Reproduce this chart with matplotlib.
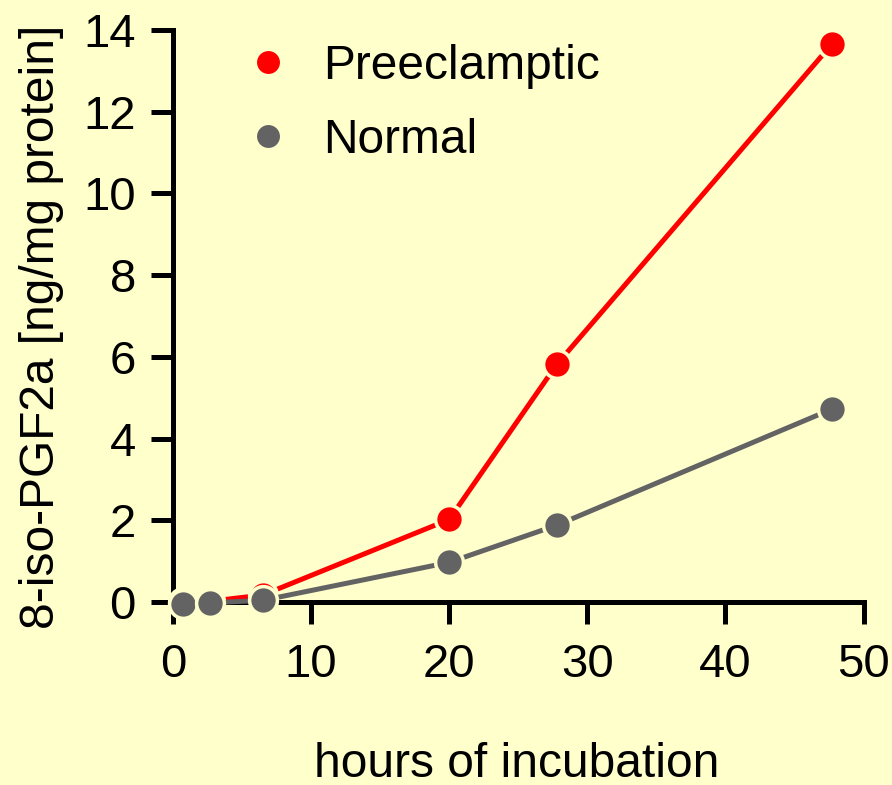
import matplotlib
matplotlib.use('Agg')
import matplotlib.pyplot as plt
from matplotlib.lines import Line2D

plt.rcParams['font.family'] = ['Liberation Sans', 'DejaVu Sans']

# data
hours = [0.7, 2.7, 6.5, 20.0, 27.8, 47.7]
preeclamptic = [0.0, 0.02, 0.17, 2.02, 5.82, 13.65]
normal = [-0.05, -0.02, 0.04, 0.97, 1.88, 4.72]

xticks = [0, 10, 20, 30, 40, 50]
yticks = [0, 2, 4, 6, 8, 10, 12, 14]

bg = '#FFFFCC'
red = '#FF0000'
grey = '#636363'
fs = 34.5

fig = plt.figure(figsize=(8.92, 7.85), dpi=100, facecolor=bg)
ax = fig.add_axes([173/892, 1-602/785, 690.5/892, 572/785])
ax.set_facecolor(bg)

ax.plot(hours, preeclamptic, color=red, lw=3.6, marker='o', ms=20,
        mfc=red, mec=bg, mew=2.5, clip_on=False, zorder=3)
ax.plot(hours, normal, color=grey, lw=3.6, marker='o', ms=20,
        mfc=grey, mec=bg, mew=2.5, clip_on=False, zorder=4)

ax.set_xlim(0, 50)
ax.set_ylim(0, 14)
ax.set_xticks(xticks)
ax.set_yticks(yticks)

for s in ['top', 'right']:
    ax.spines[s].set_visible(False)
for s in ['left', 'bottom']:
    ax.spines[s].set_linewidth(3.6)
ax.tick_params(axis='both', direction='out', length=15.8, width=3.6,
               labelsize=34, colors='black')
ax.tick_params(axis='x', pad=14)
ax.tick_params(axis='y', pad=11)

ax.set_xlabel('hours of incubation', fontsize=fs)
ax.xaxis.set_label_coords(0.498, -0.245)
ax.set_ylabel('8-iso-PGF2a [ng/mg protein]', fontsize=fs)
ax.yaxis.set_label_coords(-0.158, 0.481)

handles = [Line2D([], [], ls='none', marker='o', ms=16.5, mfc=red, mec='none'),
           Line2D([], [], ls='none', marker='o', ms=16.5, mfc=grey, mec='none')]
ax.legend(handles, ['Preeclamptic', 'Normal'], loc='upper left',
          bbox_to_anchor=(244/892, 1-44/785), bbox_transform=fig.transFigure,
          frameon=False, fontsize=fs, handlelength=1.0, handletextpad=0.66,
          labelspacing=0.6, borderpad=0, borderaxespad=0, numpoints=1)

fig.savefig('out.png', dpi=100, facecolor=bg)
